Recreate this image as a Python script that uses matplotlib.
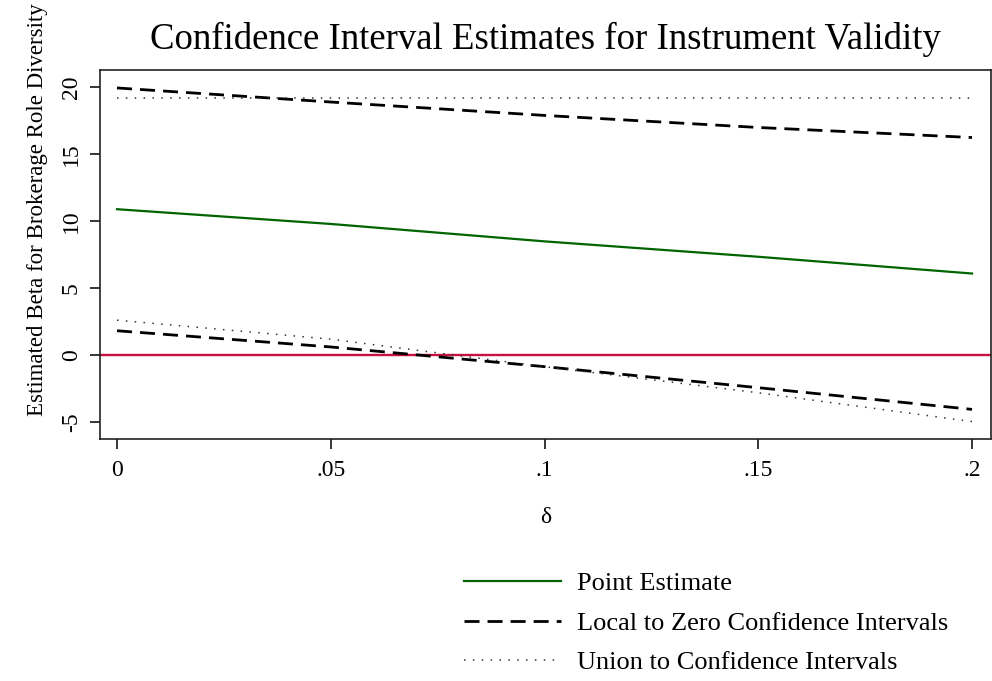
import matplotlib
matplotlib.use("Agg")
import matplotlib.pyplot as plt

plt.rcParams['font.family'] = ['Liberation Serif', 'DejaVu Serif']
plt.rcParams['axes.unicode_minus'] = False

# data
delta = [0, 0.05, 0.10, 0.15, 0.20]
point_est = [10.9, 9.8, 8.5, 7.35, 6.1]
local_upper = [19.95, 18.9, 17.9, 17.0, 16.25]
local_lower = [1.83, 0.62, -0.85, -2.42, -4.04]
union_upper = [19.2, 19.2, 19.2, 19.2, 19.2]
union_lower = [2.62, 1.2, -0.85, -2.8, -4.95]
xticks = [0, 0.05, 0.10, 0.15, 0.20]
xticklabels = ['0', '.05', '.1', '.15', '.2']
yticks = [-5, 0, 5, 10, 15, 20]

W, H = 992, 681
fig = plt.figure(figsize=(W / 100, H / 100), dpi=100)
ax = fig.add_axes([100 / W, 1 - 439 / H, 891 / W, 369 / H])

green = '#006400'
dash = (0, (5.4, 2.9))
dot = (0, (1, 4.8))

ax.axhline(0, color='#C8103E', lw=1.7, zorder=1)
l1, = ax.plot(delta, point_est, color=green, lw=1.6, label='Point Estimate')
l2, = ax.plot(delta, local_upper, color='black', lw=2.0, ls=dash,
              label='Local to Zero Confidence Intervals')
ax.plot(delta, local_lower, color='black', lw=2.0, ls=dash)
l3, = ax.plot(delta, union_upper, color='#333333', lw=1.1, ls=dot,
              label='Union to Confidence Intervals')
ax.plot(delta, union_lower, color='#333333', lw=1.1, ls=dot)

ax.set_xlim(-0.00398, 0.20444)
ax.set_ylim(-6.25, 21.29)
ax.set_xticks(xticks)
ax.set_xticklabels(xticklabels)
ax.set_yticks(yticks)
ax.tick_params(axis='both', direction='out', length=7, width=1.1,
               labelsize=17, pad=8)
ax.tick_params(axis='y', labelrotation=90, pad=6)
for lab in ax.get_yticklabels():
    lab.set_va('center')
for sp in ax.spines.values():
    sp.set_linewidth(1.2)
    sp.set_color('#222222')

ax.set_xlabel('δ', fontsize=17, labelpad=19)
ax.set_ylabel('Estimated Beta for Brokerage Role Diversity', fontsize=16.5)
ax.yaxis.set_label_coords(-0.058, 0.622)
ax.set_title('Confidence Interval Estimates for Instrument Validity',
             fontsize=26.5, pad=15)

fig.legend(handles=[l1, l2, l3], loc='upper left',
           bbox_to_anchor=(440 / W, 1 - 548 / H), frameon=False,
           fontsize=19, handlelength=3.67, handletextpad=0.64,
           labelspacing=0.61)

fig.savefig('out.png', dpi=100, facecolor='white')
